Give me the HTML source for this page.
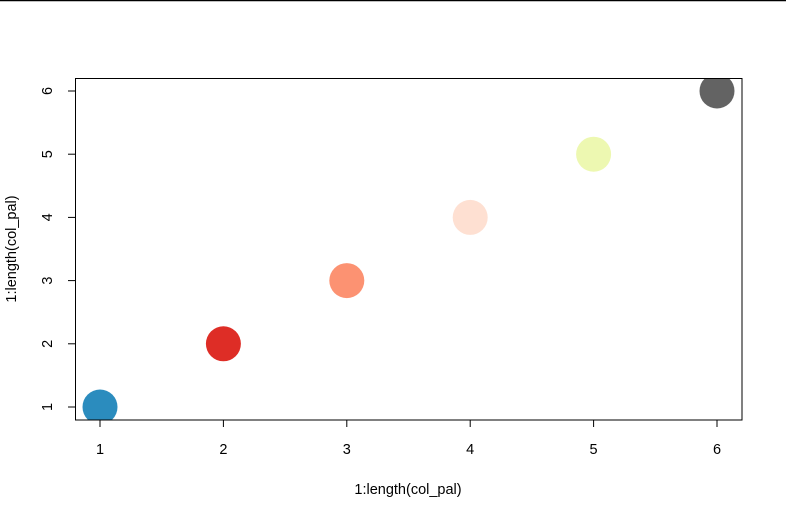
<!DOCTYPE html>
<html><head><style>body{margin:0;background:#fff}svg{display:block}</style></head><body>
<svg width="786" height="518" xmlns="http://www.w3.org/2000/svg" font-family="Liberation Sans, sans-serif" font-size="14.5">
<rect width="786" height="518" fill="#fff"/>
<line x1="0" y1="0.5" x2="786" y2="0.5" stroke="#000" stroke-width="1.5"/>
<defs><clipPath id="c"><rect x="75" y="78" width="667" height="342"/></clipPath></defs>
<g clip-path="url(#c)">
<circle cx="100" cy="407" r="17.5" fill="#2b8cbe"/>
<circle cx="223.4" cy="343.8" r="17.5" fill="#de2d26"/>
<circle cx="346.8" cy="280.6" r="17.5" fill="#fc9272"/>
<circle cx="470.2" cy="217.4" r="17.5" fill="#fee0d2"/>
<circle cx="593.6" cy="154.2" r="17.5" fill="#edf8b1"/>
<circle cx="717" cy="91" r="17.5" fill="#636363"/>
</g>
<rect x="75.5" y="78.5" width="666.5" height="341.5" fill="none" stroke="#000"/>
<g stroke="#000">
<line x1="100" y1="420" x2="100" y2="427"/><line x1="223.4" y1="420" x2="223.4" y2="427"/><line x1="346.8" y1="420" x2="346.8" y2="427"/><line x1="470.2" y1="420" x2="470.2" y2="427"/><line x1="593.6" y1="420" x2="593.6" y2="427"/><line x1="717" y1="420" x2="717" y2="427"/>
<line x1="68" y1="407" x2="75" y2="407"/><line x1="68" y1="343.8" x2="75" y2="343.8"/><line x1="68" y1="280.6" x2="75" y2="280.6"/><line x1="68" y1="217.4" x2="75" y2="217.4"/><line x1="68" y1="154.2" x2="75" y2="154.2"/><line x1="68" y1="91" x2="75" y2="91"/>
</g>
<g text-anchor="middle" fill="#000">
<text x="100" y="454">1</text><text x="223.4" y="454">2</text><text x="346.8" y="454">3</text><text x="470.2" y="454">4</text><text x="593.6" y="454">5</text><text x="717" y="454">6</text>
<text x="408" y="494">1:length(col_pal)</text>
<g transform="translate(52,0)">
<text transform="translate(0,407) rotate(-90)">1</text><text transform="translate(0,343.8) rotate(-90)">2</text><text transform="translate(0,280.6) rotate(-90)">3</text><text transform="translate(0,217.4) rotate(-90)">4</text><text transform="translate(0,154.2) rotate(-90)">5</text><text transform="translate(0,91) rotate(-90)">6</text>
</g>
<text transform="translate(16,249) rotate(-90)">1:length(col_pal)</text>
</g>
</svg>
</body></html>
